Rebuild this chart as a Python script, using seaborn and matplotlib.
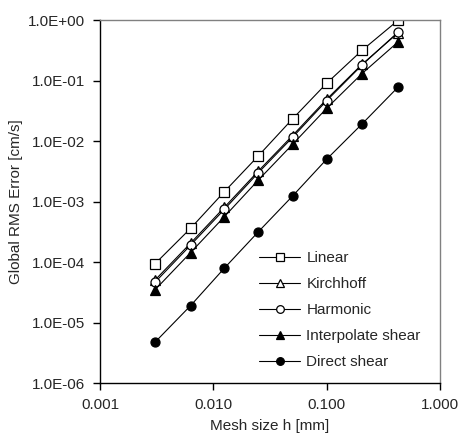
import matplotlib
matplotlib.use("Agg")
import matplotlib.pyplot as plt
import matplotlib.ticker as ticker
import numpy as np
import seaborn as sns

# mesh sizes and RMS errors
mesh_h = [0.00305, 0.0063, 0.0125, 0.025, 0.05, 0.1, 0.205, 0.43]
linear = [9.3e-5, 3.6e-4, 1.45e-3, 5.7e-3, 0.0232, 0.090, 0.315, 1.0]
kirchhoff = [5.0e-5, 2.05e-4, 8.0e-4, 3.2e-3, 0.0123, 0.049, 0.185, 0.62]
harmonic = [4.6e-5, 1.9e-4, 7.4e-4, 3.0e-3, 0.0115, 0.0464, 0.18, 0.64]
interp_shear = [3.45e-5, 1.43e-4, 5.6e-4, 2.27e-3, 8.8e-3, 0.0347, 0.13, 0.44]
direct_shear = [4.7e-6, 1.9e-5, 7.9e-5, 3.17e-4, 1.23e-3, 5.0e-3, 0.0191, 0.079]

x_ticks = [0.001, 0.01, 0.1, 1.0]
y_ticks = [1e-6, 1e-5, 1e-4, 1e-3, 1e-2, 1e-1, 1.0]

series = [
    ("Linear", linear, "s", "white"),
    ("Kirchhoff", kirchhoff, "^", "white"),
    ("Harmonic", harmonic, "o", "white"),
    ("Interpolate shear", interp_shear, "^", "black"),
    ("Direct shear", direct_shear, "o", "black"),
]

sns.set_theme(style="ticks")
plt.rcParams['font.family'] = ['Liberation Sans', 'DejaVu Sans']

fig = plt.figure(figsize=(4.62, 4.4), dpi=100)
ax = fig.add_axes([100 / 462, 57 / 440, 340 / 462, 363 / 440])

for name, vals, mk, fc in series:
    sns.lineplot(x=mesh_h, y=vals, ax=ax, color="black", linewidth=0.8,
                 marker=mk, markersize=6.5, markerfacecolor=fc,
                 markeredgecolor="black", markeredgewidth=0.9, label=name)

ax.set_xscale("log")
ax.set_yscale("log")
ax.set_xlim(0.001, 1.0)
ax.set_ylim(1e-6, 1.0)

ax.xaxis.set_major_locator(ticker.FixedLocator(x_ticks))
ax.xaxis.set_minor_locator(ticker.NullLocator())
ax.yaxis.set_major_locator(ticker.FixedLocator(y_ticks))
ax.yaxis.set_minor_locator(ticker.NullLocator())
ax.xaxis.set_major_formatter(ticker.FuncFormatter(lambda v, p: "%.3f" % v))


def sci(v, p):
    e = int(round(np.log10(v)))
    return "1.0E%s%02d" % ("+" if e >= 0 else "-", abs(e))


ax.yaxis.set_major_formatter(ticker.FuncFormatter(sci))
ax.tick_params(axis="both", which="major", direction="out", length=5,
               width=1, color="black", labelsize=11, pad=6)

for side in ["left", "bottom"]:
    ax.spines[side].set_color("black")
    ax.spines[side].set_linewidth(1)
for side in ["top", "right"]:
    ax.spines[side].set_visible(True)
    ax.spines[side].set_color("#808080")
    ax.spines[side].set_linewidth(1)

ax.set_xlabel("Mesh size h [mm]", fontsize=11, labelpad=5)
ax.set_ylabel("Global RMS Error [cm/s]", fontsize=11, labelpad=3)

leg = ax.legend(loc="upper left", bbox_to_anchor=(259 / 462, 1 - 251 / 440),
                bbox_transform=fig.transFigure, frameon=False, fontsize=11,
                handlelength=2.7, handletextpad=0.4, labelspacing=0.79,
                borderpad=0, borderaxespad=0, markerscale=0.85)

fig.savefig("out.png", dpi=100)
